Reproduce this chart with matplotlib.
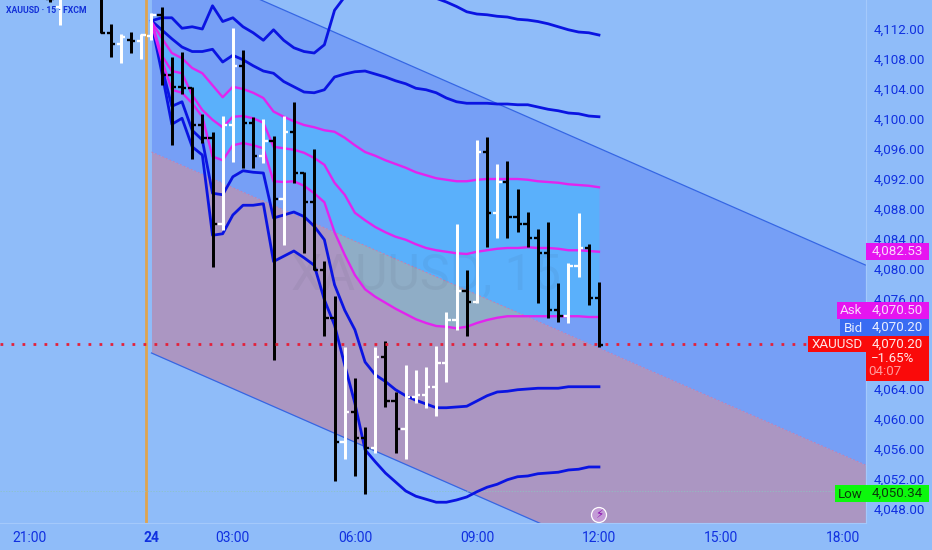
import numpy as np
import matplotlib
matplotlib.use('Agg')
import matplotlib.pyplot as plt
from matplotlib.patches import Rectangle, Polygon, Circle

plt.rcParams['font.family'] = ['Roboto', 'DejaVu Sans']

W, H = 932, 550

# ohlc bars, x is the bar number counted from the 00:00 bar of the 24th
bar_idx = [-10, -9, -5, -4, -3, -2, -1] + list(range(45))
opens = [4116.0, 4115.0, 4118.0, 4111.47, 4110.0, 4110.53, 4110.44,
         4111.1, 4113.87, 4105.87, 4104.27, 4104.2, 4099.2, 4097.47, 4086.0, 4099.2, 4107.07,
         4099.47, 4095.07, 4097.07, 4089.34, 4098.27, 4092.8, 4088.94, 4079.87, 4073.47, 4056.94,
         4060.94, 4057.47, 4056.14, 4068.27, 4062.4, 4058.67, 4062.94, 4063.2, 4064.27, 4067.47,
         4073.2, 4077.07, 4075.6, 4095.6, 4087.47, 4091.6, 4086.94, 4086.0, 4084.14, 4082.14,
         4074.54, 4073.74, 4080.4, 4082.8, 4076.14]
highs = [4117.0, 4118.0, 4120.0, 4112.67, 4111.33, 4111.6, 4111.33,
         4114.13, 4114.94, 4108.27, 4108.94, 4104.27, 4100.67, 4098.27, 4100.4, 4112.14, 4109.2,
         4100.27, 4100.0, 4097.74, 4100.4, 4102.27, 4092.94, 4096.0, 4081.07, 4076.4, 4069.6,
         4065.47, 4058.94, 4069.6, 4070.4, 4063.6, 4067.2, 4066.53, 4066.94, 4069.74, 4074.27,
         4086.0, 4079.87, 4097.2, 4097.6, 4094.0, 4094.4, 4090.67, 4087.6, 4085.34, 4086.27,
         4078.14, 4080.8, 4087.47, 4083.34, 4078.27]
lows = [4115.6, 4112.5, 4111.47, 4108.27, 4107.47, 4108.8, 4108.0,
        4110.53, 4104.53, 4096.53, 4103.34, 4094.67, 4096.8, 4080.27, 4085.2, 4094.27, 4093.47,
        4093.47, 4094.14, 4067.87, 4083.2, 4091.47, 4082.14, 4079.87, 4071.07, 4051.74, 4054.67,
        4052.4, 4050.0, 4055.47, 4061.6, 4055.47, 4054.67, 4062.14, 4061.47, 4060.4, 4064.94,
        4071.87, 4071.07, 4075.47, 4082.94, 4084.14, 4084.14, 4084.94, 4082.94, 4075.47, 4073.47,
        4072.94, 4072.8, 4078.94, 4075.2, 4069.6]
closes = [4116.0, 4116.5, 4111.47, 4110.0, 4110.93, 4110.44, 4111.2,
          4113.87, 4105.87, 4104.27, 4104.14, 4099.2, 4097.47, 4086.0, 4099.2, 4107.07, 4099.47,
          4095.07, 4097.07, 4089.34, 4098.27, 4092.8, 4088.94, 4079.87, 4073.47, 4056.94, 4060.94,
          4057.47, 4056.14, 4068.27, 4062.4, 4058.67, 4062.94, 4063.2, 4064.27, 4067.47, 4073.2,
          4077.07, 4075.6, 4095.6, 4087.47, 4091.6, 4086.94, 4086.0, 4084.14, 4082.14, 4074.54,
          4073.74, 4080.4, 4082.8, 4076.14, 4069.87]

# indicator lines, one value for bars 0..44
band_idx = list(range(45))
blue1 = [4113.1, 4113.5, 4113.5, 4112.1, 4112.3, 4112.0, 4115.1, 4113.0, 4113.5, 4112.3, 4111.5, 4110.5,
         4111.9, 4110.5, 4109.5, 4109.0, 4108.8, 4109.9, 4114.5, 4116.3, 4117.0, 4117.2, 4117.5, 4117.5,
         4117.2, 4117.2, 4117.0, 4116.5, 4116.1, 4115.6, 4115.0, 4114.3, 4114.0, 4113.9, 4113.7, 4113.6,
         4113.3, 4113.2, 4113.0, 4112.7, 4112.3, 4111.9, 4111.6, 4111.5, 4111.2]
blue2 = [4113.1, 4111.9, 4110.7, 4109.6, 4109.0, 4109.0, 4109.3, 4107.6, 4108.5, 4107.9, 4107.1, 4106.4,
         4106.1, 4105.0, 4104.3, 4103.6, 4103.5, 4103.9, 4105.6, 4106.0, 4106.3, 4106.4, 4106.0, 4105.6,
         4105.1, 4104.7, 4104.1, 4103.9, 4103.5, 4102.8, 4102.3, 4102.1, 4102.1, 4102.1, 4102.0, 4102.0,
         4101.9, 4101.9, 4101.6, 4101.3, 4101.1, 4100.8, 4100.7, 4100.4, 4100.3]
magenta1 = [4113.0, 4110.8, 4108.8, 4108.1, 4106.8, 4106.1, 4104.5, 4102.9, 4104.3, 4104.0, 4103.5, 4102.8,
            4101.0, 4100.3, 4099.7, 4099.2, 4098.9, 4098.5, 4098.3, 4097.5, 4096.5, 4095.6, 4095.1, 4094.5,
            4094.0, 4093.5, 4092.9, 4092.5, 4092.1, 4091.9, 4091.7, 4091.7, 4091.9, 4092.0, 4092.0, 4092.0,
            4092.0, 4091.9, 4091.7, 4091.6, 4091.5, 4091.3, 4091.2, 4091.1, 4090.9]
magenta2 = [4113.0, 4108.5, 4106.4, 4106.1, 4103.2, 4101.2, 4099.9, 4098.9, 4100.3, 4100.4, 4100.1, 4099.5,
            4096.3, 4096.1, 4095.9, 4095.5, 4094.8, 4093.9, 4091.5, 4089.9, 4087.5, 4086.5, 4085.6, 4084.9,
            4084.3, 4083.9, 4083.3, 4082.8, 4082.5, 4082.3, 4082.1, 4082.0, 4082.3, 4082.5, 4082.7, 4082.8,
            4082.8, 4082.9, 4082.8, 4082.8, 4082.7, 4082.5, 4082.5, 4082.4, 4082.3]
magenta3 = [4112.8, 4107.9, 4103.9, 4103.5, 4102.1, 4100.3, 4095.0, 4094.5, 4096.5, 4096.8, 4096.5, 4096.1,
            4091.7, 4091.6, 4091.7, 4091.1, 4090.1, 4088.9, 4084.9, 4081.9, 4079.2, 4077.3, 4076.3, 4075.5,
            4074.7, 4074.0, 4073.3, 4072.8, 4072.4, 4072.3, 4072.1, 4072.3, 4072.8, 4073.2, 4073.5, 4073.7,
            4073.7, 4073.7, 4073.7, 4073.7, 4073.7, 4073.7, 4073.7, 4073.6, 4073.6]
blue3 = [4113.0, 4107.0, 4101.7, 4102.3, 4098.5, 4097.2, 4090.1, 4089.9, 4092.3, 4093.1, 4092.9, 4092.8,
         4086.8, 4087.2, 4087.6, 4087.0, 4085.7, 4083.9, 4077.9, 4074.5, 4071.9, 4067.6, 4065.9, 4065.0,
         4063.9, 4063.1, 4062.5, 4062.0, 4061.5, 4061.5, 4061.6, 4061.7, 4062.4, 4063.1, 4063.6, 4063.7,
         4063.9, 4064.0, 4064.1, 4064.1, 4064.1, 4064.3, 4064.3, 4064.3, 4064.3]
blue4 = [4112.8, 4106.3, 4099.3, 4100.1, 4096.3, 4095.2, 4084.5, 4084.7, 4087.2, 4088.5, 4088.5, 4088.7,
         4081.0, 4081.7, 4082.4, 4081.5, 4080.5, 4075.9, 4072.5, 4067.2, 4062.1, 4055.9, 4054.3, 4052.8,
         4051.6, 4050.4, 4049.7, 4049.3, 4048.9, 4048.9, 4049.2, 4049.6, 4050.3, 4050.9, 4051.3, 4051.9,
         4052.3, 4052.4, 4052.7, 4052.8, 4052.9, 4053.2, 4053.3, 4053.6, 4053.6]

# regression channel end points
channel_x = [0, 70.2]
channel_upper = [4122.27, 4080.53]
channel_mid = [4095.6, 4053.87]
channel_lower = [4068.8, 4027.07]

price_ticks = list(range(4048, 4113, 4))
time_pos = [-12, 0, 8, 20, 32, 44, 56, 68]
time_labels = ['21:00', '24', '03:00', '06:00', '09:00', '12:00', '15:00', '18:00']
session_x = -0.5
last_price = 4070.0
low_price = 4050.34

BG = '#8fbcf9'
AXIS_BLUE = '#1030e0'

fig = plt.figure(figsize=(W / 100, H / 100), dpi=100, facecolor=BG)
ax = fig.add_axes([0, 27 / H, 866 / W, 1 - 27 / H], facecolor=BG)
ax.set_xlim(-14.897, 70.26)
ax.set_ylim(4046.13, 4115.87)

# channel fills
ax.fill_between(channel_x, channel_mid, channel_upper, color='#769ff6', lw=0, zorder=1)
ax.fill_between(channel_x, channel_lower, channel_mid, color='#ab96c2', lw=0, zorder=1)
ax.plot(channel_x, channel_upper, color='#3566e4', lw=0.9, zorder=2)
ax.plot(channel_x, channel_lower, color='#3566e4', lw=0.9, zorder=2)

# band, greyer where it sits on the lower channel
ax.fill_between(band_idx, magenta3, magenta1, color='#5ab0fb', lw=0, zorder=1.5)
grey = ax.fill_between(band_idx, magenta3, magenta1, color='#8fadc6', lw=0, zorder=1.6)
clip_poly = Polygon([(channel_x[0], channel_mid[0]), (channel_x[1], channel_mid[1]),
                     (channel_x[1], channel_lower[1]), (channel_x[0], channel_lower[0])],
                    transform=ax.transData)
grey.set_clip_path(clip_poly)
ax.plot(channel_x, channel_mid, color='#c77fb0', lw=0.7, ls=(0, (2, 2)), zorder=2)

# watermark
ax.text(27.0, 4079.2, 'XAUUSD, 15', fontsize=36, color='#30304a', alpha=0.06, ha='center', va='center', zorder=2.2)

ax.axvline(session_x, color='#dfa44f', lw=2.0, zorder=2.5)
ax.axhline(low_price, color='#8cc4c0', lw=0.5, ls=(0, (2, 2)), zorder=2.5)

for vals in (blue1, blue2, blue3, blue4):
    ax.plot(band_idx, vals, color='#0a14e2', lw=2.0, zorder=3, solid_joinstyle='round')
for vals in (magenta1, magenta2, magenta3):
    ax.plot(band_idx, vals, color='#e224ee', lw=1.7, zorder=3, solid_joinstyle='round')

# ohlc bars
for i, o, h, l, c in zip(bar_idx, opens, highs, lows, closes):
    col = 'white' if c > o else 'black'
    ax.vlines(i, l, h, color=col, lw=2.15, zorder=4)
    ax.hlines(o, i - 0.42, i, color=col, lw=1.7, zorder=4)
    ax.hlines(c, i, i + 0.42, color=col, lw=1.7, zorder=4)

# last price line
ax.plot([-14.897, 64.6], [last_price, last_price], color='#e4203a', lw=2.0, ls=(0, (1, 2.96)), zorder=5)

for s in ['top', 'left']:
    ax.spines[s].set_visible(False)
for s in ['bottom', 'right']:
    ax.spines[s].set_color('#a4c9fb')
    ax.spines[s].set_linewidth(0.8)

ax.yaxis.tick_right()
ax.set_yticks(price_ticks)
ax.set_yticklabels([f'{p:,.2f}' for p in price_ticks], fontsize=9.6, color=AXIS_BLUE)
ax.set_xticks(time_pos)
ax.set_xticklabels(time_labels, fontsize=10, color=AXIS_BLUE)
ax.get_xticklabels()[1].set_fontweight('bold')
ax.tick_params(length=0)
ax.tick_params(axis='y', pad=5.5)
ax.tick_params(axis='x', pad=5.5)


def box(x0, y0, x1, y1, color):
    fig.add_artist(Rectangle((x0 / W, 1 - y1 / H), (x1 - x0) / W, (y1 - y0) / H,
                             transform=fig.transFigure, color=color, lw=0, zorder=5))


def label(x, y, s, color='white', ha='center', size=9.6):
    fig.text(x / W, 1 - y / H, s, color=color, ha=ha, va='center', fontsize=size, zorder=6)


box(866, 243, 929, 260, '#e614f0')
label(897.5, 251.5, '4,082.53', '#fbd6fd')

box(837, 302, 929, 319, '#e614f0')
label(851.5, 311, 'Ask', '#fbd6fd')
label(897.5, 310.5, '4,070.50', '#fbd6fd')

box(840, 319, 929, 336, '#3a6cf2')
label(853, 328, 'Bid', '#e8eeff')
label(897.5, 327.5, '4,070.20', '#e8eeff')

box(808, 336, 866, 352, '#fa0a0a')
box(866, 336, 929, 381, '#fa0a0a')
label(837, 344.5, 'XAUUSD', '#ffe6e6')
label(897.5, 344, '4,070.20', '#ffe6e6')
label(893, 358, '\u22121.65%', '#ffe6e6')
label(885, 371.5, '04:07', '#ff9a9a')

box(835, 485, 929, 502, '#0cf80c')
label(850.5, 494, 'Low', '#0a3a0a')
label(897.5, 493, '4,050.34', '#0a3a0a')

fig.text(6 / W, 1 - 10.5 / H, 'XAUUSD \u00b7 15 \u00b7 FXCM', color='#1230d8', fontsize=6.2,
         fontweight='bold', ha='left', va='center', zorder=6)

# lightning badge
fig.add_artist(Circle((5.99, (H - 515) / 100), 0.075, transform=fig.dpi_scale_trans,
                      facecolor='#c39bd6', edgecolor='white', lw=0.9, zorder=5))
fig.text(599 / W, 1 - 515 / H, '\u26a1', color='#8a10b0', fontsize=8.5, family='DejaVu Sans',
         ha='center', va='center', zorder=6)

fig.savefig('out.png', dpi=100, facecolor=BG)
